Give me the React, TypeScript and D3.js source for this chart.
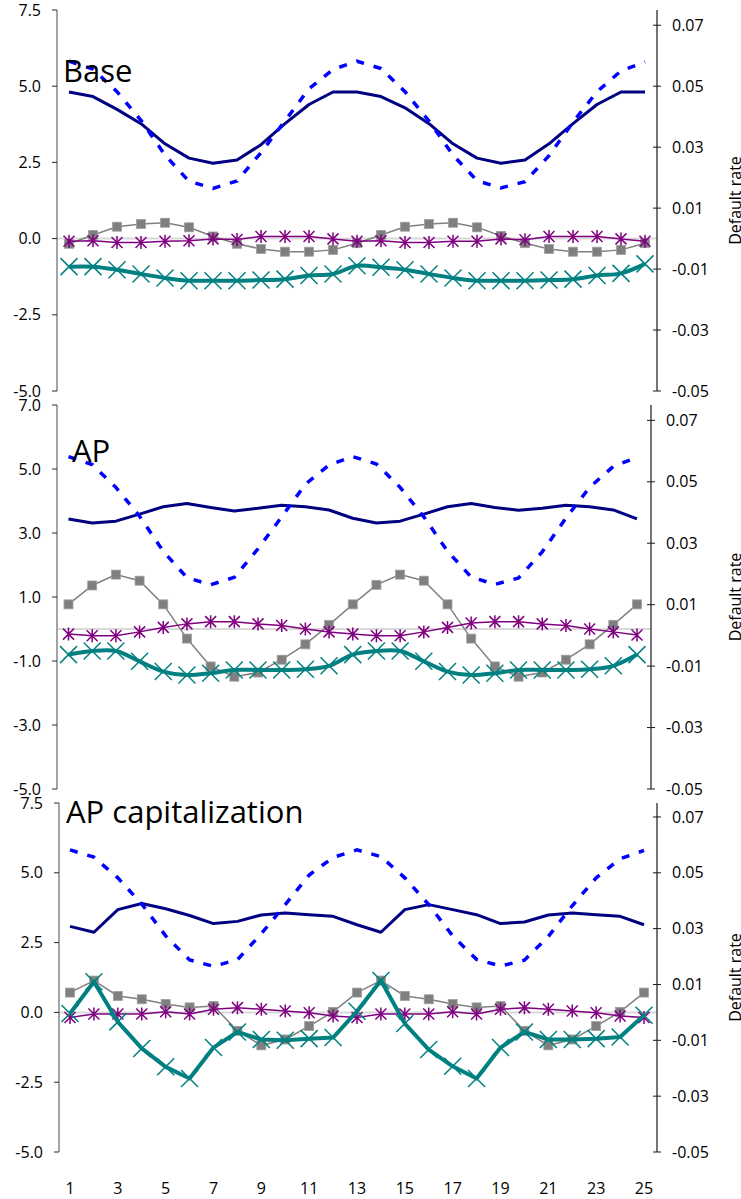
import React from 'react';
import * as d3 from 'd3';

// ---------- data ----------
const periods = [1, 2, 3, 4, 5, 6, 7, 8, 9, 10, 11, 12, 13, 14, 15, 16, 17, 18, 19, 20, 21, 22, 23, 24, 25];
const xTickLabels = [1, 3, 5, 7, 9, 11, 13, 15, 17, 19, 21, 23, 25];

const defaultRate = [0.0582, 0.0556, 0.0482, 0.0388, 0.0274, 0.0188, 0.0165, 0.0189, 0.0282, 0.0386, 0.0492, 0.0555, 0.0582, 0.0558, 0.0482, 0.0386, 0.0274, 0.0190, 0.0166, 0.0187, 0.0272, 0.0382, 0.0482, 0.0550, 0.0580];

const baseNavy = [4.81, 4.66, 4.24, 3.77, 3.11, 2.64, 2.47, 2.58, 3.08, 3.77, 4.40, 4.81, 4.81, 4.66, 4.29, 3.77, 3.11, 2.64, 2.47, 2.58, 3.11, 3.77, 4.40, 4.81, 4.81];
const baseGray = [-0.17, 0.12, 0.39, 0.48, 0.52, 0.37, 0.07, -0.17, -0.34, -0.43, -0.43, -0.37, -0.15, 0.12, 0.39, 0.48, 0.52, 0.37, 0.09, -0.15, -0.34, -0.43, -0.43, -0.37, -0.15];
const basePurple = [-0.09, -0.07, -0.13, -0.13, -0.09, -0.07, -0.01, -0.03, 0.07, 0.07, 0.07, -0.01, -0.09, -0.07, -0.13, -0.13, -0.09, -0.09, -0.01, -0.04, 0.07, 0.07, 0.07, -0.01, -0.09];
const baseTeal = [-0.92, -0.92, -1.02, -1.16, -1.29, -1.38, -1.38, -1.38, -1.36, -1.33, -1.21, -1.16, -0.89, -0.94, -1.02, -1.16, -1.29, -1.38, -1.38, -1.38, -1.36, -1.33, -1.21, -1.14, -0.83];

const apNavy = [3.44, 3.31, 3.37, 3.59, 3.82, 3.92, 3.80, 3.69, 3.77, 3.87, 3.82, 3.72, 3.46, 3.31, 3.37, 3.59, 3.82, 3.92, 3.80, 3.71, 3.77, 3.87, 3.82, 3.72, 3.44];
const apGray = [0.77, 1.36, 1.70, 1.51, 0.77, -0.30, -1.17, -1.49, -1.36, -0.96, -0.48, 0.13, 0.77, 1.38, 1.70, 1.51, 0.77, -0.30, -1.17, -1.49, -1.36, -0.96, -0.48, 0.13, 0.77];
const apPurple = [-0.16, -0.21, -0.21, -0.09, 0.05, 0.16, 0.23, 0.23, 0.16, 0.11, 0.0, -0.09, -0.16, -0.21, -0.21, -0.09, 0.05, 0.19, 0.23, 0.23, 0.16, 0.11, 0.0, -0.09, -0.19];
const apTeal = [-0.80, -0.69, -0.69, -1.01, -1.33, -1.44, -1.38, -1.28, -1.28, -1.28, -1.26, -1.15, -0.80, -0.69, -0.69, -1.01, -1.33, -1.44, -1.38, -1.28, -1.28, -1.28, -1.26, -1.15, -0.80];

const capNavy = [3.08, 2.87, 3.68, 3.90, 3.71, 3.47, 3.18, 3.26, 3.49, 3.56, 3.50, 3.44, 3.14, 2.87, 3.68, 3.86, 3.68, 3.50, 3.18, 3.24, 3.49, 3.56, 3.50, 3.44, 3.14];
const capGray = [0.71, 1.14, 0.59, 0.47, 0.30, 0.18, 0.23, -0.66, -1.18, -0.97, -0.49, 0.02, 0.71, 1.14, 0.59, 0.47, 0.30, 0.18, 0.23, -0.66, -1.18, -0.97, -0.49, 0.02, 0.71];
const capPurple = [-0.18, -0.06, -0.06, -0.06, 0.02, -0.06, 0.11, 0.17, 0.11, 0.05, -0.01, -0.13, -0.18, -0.06, -0.06, -0.06, 0.02, -0.06, 0.11, 0.17, 0.11, 0.05, -0.01, -0.13, -0.18];
const capTeal = [-0.04, 1.10, -0.34, -1.29, -1.95, -2.37, -1.26, -0.70, -0.97, -1.00, -0.94, -0.90, 0.04, 1.14, -0.40, -1.33, -1.93, -2.37, -1.26, -0.70, -0.97, -0.97, -0.94, -0.88, -0.10];

const leftTicks75 = [-5, -2.5, 0, 2.5, 5, 7.5];
const leftTicks70 = [-5, -3, -1, 1, 3, 5, 7];
const rightTicks = [-0.05, -0.03, -0.01, 0.01, 0.03, 0.05, 0.07];
const rightLabel = 'Default rate';

// ---------- layout ----------
type PanelCfg = {
  title: string;
  titleX: number; titleY: number;
  top: number; bottom: number;
  leftX: number; rightX: number;
  xFirst: number; xLast: number;
  leftDomain: [number, number];
  leftTicks: number[];
  navy: number[]; gray: number[]; purple: number[]; teal: number[];
  smoothTeal: boolean;
};

const panels: PanelCfg[] = [
  { title: 'Base', titleX: 63, titleY: 82, top: 10, bottom: 391, leftX: 57, rightX: 657, xFirst: 69, xLast: 645,
    leftDomain: [-5, 7.5], leftTicks: leftTicks75, navy: baseNavy, gray: baseGray, purple: basePurple, teal: baseTeal, smoothTeal: true },
  { title: 'AP', titleX: 72, titleY: 462, top: 405, bottom: 789, leftX: 57, rightX: 651, xFirst: 68.5, xLast: 637,
    leftDomain: [-5, 7], leftTicks: leftTicks70, navy: apNavy, gray: apGray, purple: apPurple, teal: apTeal, smoothTeal: true },
  { title: 'AP capitalization', titleX: 66, titleY: 823, top: 803, bottom: 1152, leftX: 59, rightX: 657, xFirst: 70, xLast: 644,
    leftDomain: [-5, 7.5], leftTicks: leftTicks75, navy: capNavy, gray: capGray, purple: capPurple, teal: capTeal, smoothTeal: false },
];

const COLORS = { navy: '#000080', blue: '#0000ff', gray: '#808080', purple: '#800080', teal: '#008080' };
const fmt1 = (v: number) => d3.format('.1f')(v).replace('\u2212', '-');
const fmt2 = (v: number) => d3.format('.2f')(v).replace('\u2212', '-');

function Panel({ p }: { p: PanelCfg }) {
  const x = d3.scaleLinear().domain([1, 25]).range([p.xFirst, p.xLast]);
  const yL = d3.scaleLinear().domain(p.leftDomain).range([p.bottom, p.top]);
  const yR = d3.scaleLinear().domain([-0.05, 0.075]).range([p.bottom, p.top]);

  const lineL = (vals: number[], curve: d3.CurveFactory = d3.curveLinear) =>
    d3.line<number>().x((_, i) => x(periods[i])).y((d) => yL(d)).curve(curve)(vals) || '';
  const lineR = d3.line<number>().x((_, i) => x(periods[i])).y((d) => yR(d)).curve(d3.curveLinear)(defaultRate) || '';

  const tealCurve = p.smoothTeal ? d3.curveCatmullRom.alpha(0.5) : d3.curveLinear;
  const sq = 4.5, st = 5.5, xs = 8.5;

  return (
    <g>
      {/* zero line */}
      <line x1={p.leftX} x2={p.rightX} y1={yL(0)} y2={yL(0)} stroke="#d9d9d9" strokeWidth={2} />

      {/* left axis */}
      <line x1={p.leftX} x2={p.leftX} y1={p.top} y2={p.bottom} stroke="#868686" strokeWidth={1.5} />
      {p.leftTicks.map((t) => (
        <g key={'l' + t}>
          <line x1={p.leftX - 5} x2={p.leftX} y1={yL(t)} y2={yL(t)} stroke="#262626" strokeWidth={1} />
          <text x={p.leftX - 16} y={yL(t)} dy="0.35em" textAnchor="end" fontSize={16} fill="#000">{fmt1(t)}</text>
        </g>
      ))}

      {/* right axis */}
      <line x1={p.rightX} x2={p.rightX} y1={p.top} y2={p.bottom} stroke="#1a1a1a" strokeWidth={1.2} />
      {rightTicks.map((t) => (
        <g key={'r' + t}>
          <line x1={p.rightX - 4} x2={p.rightX + 4} y1={yR(t)} y2={yR(t)} stroke="#1a1a1a" strokeWidth={1} />
          <text x={p.rightX + 15} y={yR(t)} dy="0.35em" textAnchor="start" fontSize={16} fill="#000">{fmt2(t)}</text>
        </g>
      ))}
      <text transform={`translate(741,${(p.top + p.bottom) / 2}) rotate(-90)`} textAnchor="middle" fontSize={16} fill="#000">{rightLabel}</text>

      {/* series */}
      <path d={lineL(p.navy)} fill="none" stroke={COLORS.navy} strokeWidth={3} strokeLinejoin="round" />

      <path d={lineL(p.gray)} fill="none" stroke={COLORS.gray} strokeWidth={1.5} />
      {p.gray.map((v, i) => (
        <rect key={'g' + i} x={x(periods[i]) - sq} y={yL(v) - sq} width={sq * 2} height={sq * 2} fill="#7f7f7f" stroke="#a0a0a0" strokeWidth={0.8} />
      ))}

      <path d={lineL(p.purple)} fill="none" stroke={COLORS.purple} strokeWidth={1.5} />
      {p.purple.map((v, i) => {
        const cx = x(periods[i]), cy = yL(v);
        return (
          <path key={'p' + i}
            d={`M${cx - st},${cy - st}L${cx + st},${cy + st}M${cx - st},${cy + st}L${cx + st},${cy - st}M${cx},${cy - st - 1}L${cx},${cy + st + 1}`}
            stroke={COLORS.purple} strokeWidth={1.5} fill="none" />
        );
      })}

      <path d={lineL(p.teal, tealCurve)} fill="none" stroke={COLORS.teal} strokeWidth={4} strokeLinejoin="round" />
      {p.teal.map((v, i) => {
        const cx = x(periods[i]), cy = yL(v);
        return (
          <path key={'t' + i}
            d={`M${cx - xs},${cy - xs}L${cx + xs},${cy + xs}M${cx - xs},${cy + xs}L${cx + xs},${cy - xs}`}
            stroke={COLORS.teal} strokeWidth={1.5} fill="none" />
        );
      })}

      <path d={lineR} fill="none" stroke={COLORS.blue} strokeWidth={3.5} strokeDasharray="8,10" />

      {/* title */}
      <text x={p.titleX} y={p.titleY} fontSize={31} fill="#000">{p.title}</text>
    </g>
  );
}

export default function App() {
  const last = panels[panels.length - 1];
  const x = d3.scaleLinear().domain([1, 25]).range([last.xFirst, last.xLast]);
  return (
    <svg width={741} height={1199} style={{ position: 'absolute', left: 0, top: 0, fontFamily: '"Open Sans", sans-serif' }}>
      <rect x={0} y={0} width={741} height={1199} fill="#fff" />
      {panels.map((p) => <Panel key={p.title} p={p} />)}
      {xTickLabels.map((t) => (
        <text key={'x' + t} x={x(t)} y={1188} dy="0.35em" textAnchor="middle" fontSize={16} fill="#000">{t}</text>
      ))}
    </svg>
  );
}
